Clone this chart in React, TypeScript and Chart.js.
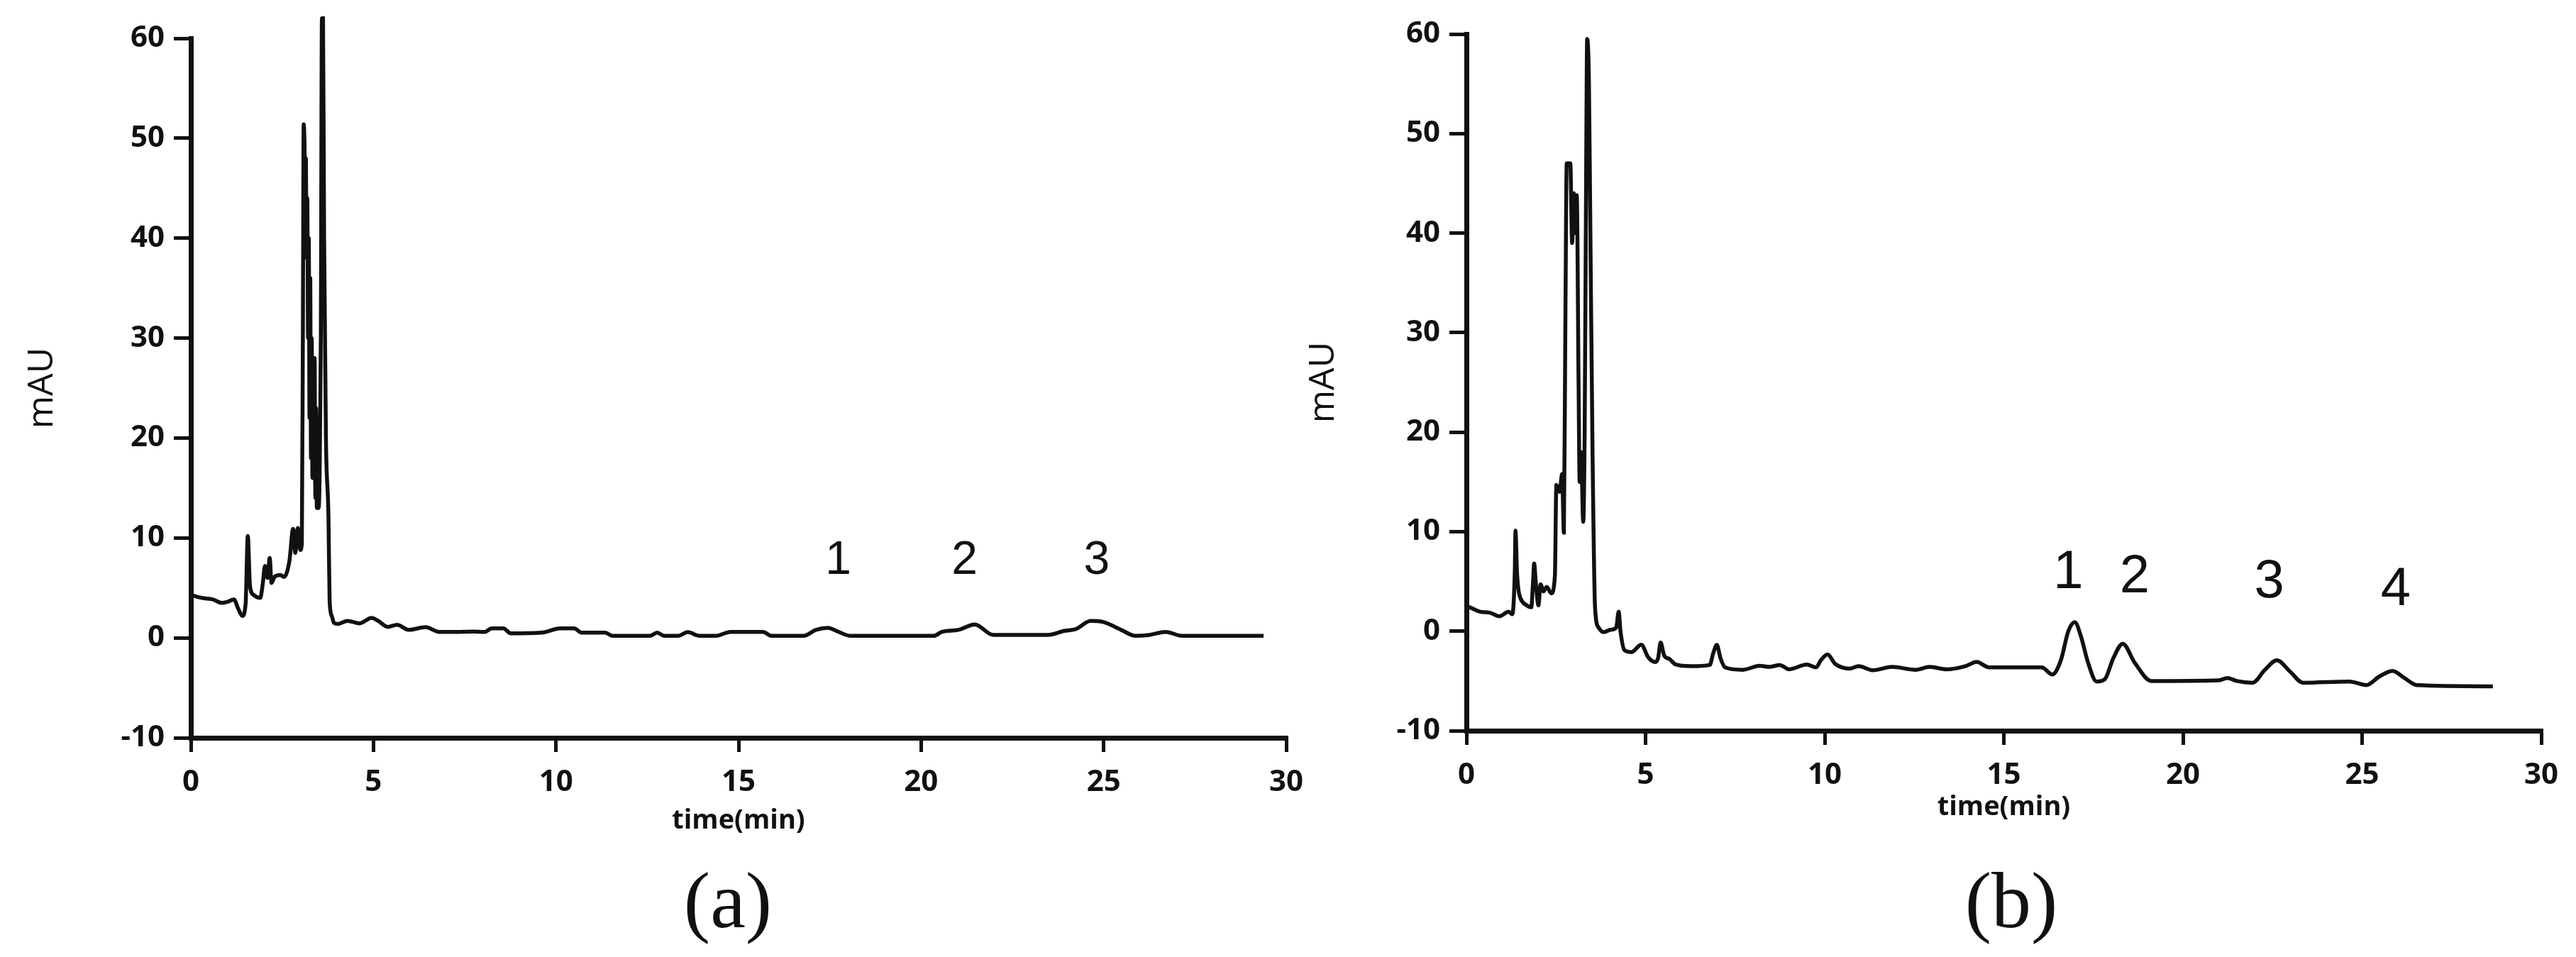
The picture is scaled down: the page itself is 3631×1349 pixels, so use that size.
import React, { useEffect, useRef } from 'react';
import { Chart, registerables } from 'chart.js';

Chart.register(...registerables);

// ---------- data: chromatogram (a) ----------
const timeA = [
  0.0, 0.3, 0.6, 0.85, 1.0, 1.18, 1.3, 1.41, 1.5, 1.56, 1.62, 1.72, 1.9, 1.97, 2.03, 2.1, 2.16, 2.21, 2.29, 2.45,
  2.55, 2.7, 2.8, 2.86, 2.93, 3.0, 3.04, 3.07, 3.09, 3.11, 3.13, 3.15, 3.17, 3.19, 3.21, 3.23, 3.25, 3.27, 3.29, 3.31,
  3.33, 3.35, 3.37, 3.39, 3.41, 3.43, 3.45, 3.47, 3.5, 3.53, 3.56, 3.59, 3.62, 3.65, 3.7, 3.77, 3.8, 3.86, 3.92, 4.03,
  4.29, 4.62, 4.95, 5.13, 5.39, 5.65, 5.97, 6.43, 6.8, 7.27, 7.72, 8.05, 8.24, 8.56, 8.76, 9.6, 10.12, 10.5, 10.7, 11.35,
  11.54, 12.58, 12.77, 12.96, 13.35, 13.61, 13.93, 14.38, 14.78, 15.67, 15.9, 16.78, 17.12, 17.45, 17.68, 18.07, 20.35, 20.57, 21.02, 21.47,
  21.97, 23.47, 23.92, 24.25, 24.64, 24.98, 25.48, 25.87, 26.26, 26.7, 27.15, 29.38,
];
const signalA = [
  4.3, 4.0, 3.85, 3.5, 3.6, 3.85, 2.9, 2.2, 3.4, 10.2, 5.2, 4.3, 4.0, 5.4, 7.2, 6.0, 8.0, 5.5, 6.1, 6.3,
  6.1, 7.7, 10.9, 8.5, 11.0, 8.8, 9.5, 32, 51.4, 50, 45, 48, 38, 44, 30, 40, 22, 36, 18, 30,
  16, 26, 20, 28, 14, 23, 13, 18, 13, 17, 30, 62, 62, 40, 20, 12, 3.8, 2.2, 1.5, 1.4,
  1.7, 1.45, 2.0, 1.7, 1.1, 1.3, 0.8, 1.07, 0.6, 0.6, 0.64, 0.6, 0.95, 0.95, 0.45, 0.52, 0.95, 0.95, 0.52, 0.52,
  0.21, 0.21, 0.52, 0.21, 0.21, 0.57, 0.21, 0.21, 0.6, 0.6, 0.2, 0.2, 0.8, 1.0, 0.7, 0.2, 0.2, 0.6, 0.8, 1.35,
  0.3, 0.3, 0.7, 0.9, 1.7, 1.6, 0.8, 0.2, 0.3, 0.6, 0.2, 0.2,
];

// ---------- data: chromatogram (b) ----------
const timeB = [
  0.0, 0.09, 0.39, 0.65, 0.92, 1.18, 1.28, 1.35, 1.37, 1.41, 1.45, 1.51, 1.68, 1.81, 1.86, 1.89, 1.94, 2.01, 2.07, 2.15,
  2.24, 2.37, 2.47, 2.51, 2.6, 2.67, 2.72, 2.76, 2.8, 2.9, 2.95, 3.0, 3.04, 3.08, 3.13, 3.16, 3.2, 3.26, 3.3, 3.34,
  3.37, 3.42, 3.46, 3.52, 3.59, 3.69, 3.82, 4.02, 4.18, 4.25, 4.3, 4.41, 4.61, 4.88, 5.07, 5.27, 5.35, 5.42, 5.52, 5.67,
  5.84, 6.27, 6.79, 6.89, 6.99, 7.09, 7.22, 7.72, 8.18, 8.45, 8.75, 9.01, 9.5, 9.76, 9.89, 10.08, 10.29, 10.69, 10.95, 11.35,
  11.88, 12.54, 12.93, 13.4, 13.94, 14.24, 14.59, 16.06, 16.35, 16.59, 16.8, 16.98, 17.15, 17.35, 17.59, 17.82, 18.06, 18.32, 18.65, 19.12,
  21.0, 21.24, 21.5, 21.94, 22.29, 22.62, 23.0, 23.35, 24.65, 25.12, 25.47, 25.85, 26.18, 26.53, 28.65,
];
const signalB = [
  2.5, 2.4, 1.95, 1.86, 1.5, 1.95, 1.7, 6, 10.1, 6, 4.2, 3.3, 2.6, 2.4, 5, 6.8, 4.7, 2.6, 4.7, 4.0,
  4.45, 3.8, 5.6, 14.7, 14.0, 15.8, 9.9, 30, 47, 47, 39, 44, 40, 43.8, 25, 15, 18, 11, 20, 45,
  59.5, 55, 40, 18, 2.4, 0.36, -0.1, 0.14, 0.36, 1.95, 0.0, -1.9, -2.1, -1.35, -2.6, -3.1, -2.7, -1.15, -2.45, -2.8,
  -3.35, -3.52, -3.4, -2.2, -1.38, -2.69, -3.64, -3.88, -3.47, -3.59, -3.4, -3.83, -3.35, -3.64, -2.93, -2.33, -3.28, -3.76, -3.52, -3.93,
  -3.59, -3.88, -3.59, -3.83, -3.5, -3.09, -3.64, -3.64, -4.35, -2.94, 0.0, 0.9, -0.5, -3.15, -5.06, -4.82, -2.68, -1.26, -3.15, -5.01,
  -4.94, -4.7, -5.0, -5.18, -3.87, -2.92, -4.1, -5.18, -5.06, -5.42, -4.58, -3.99, -4.7, -5.42, -5.54,
];

// ---------- ticks / annotations ----------
const xTickValues = [0, 5, 10, 15, 20, 25, 30];
const yTickValues = [-10, 0, 10, 20, 30, 40, 50, 60];
const peakLabelsA = ['1', '2', '3'];
const peakTimesA = [17.73, 21.19, 24.81];
const peakLevelsA = [7.7, 7.7, 7.7];
const peakLabelsB = ['1', '2', '3', '4'];
const peakTimesB = [16.8, 18.65, 22.41, 25.94];
const peakLevelsB = [5.8, 5.4, 4.9, 4.1];

const INK = '#111111';
const FONT = "'Open Sans', 'DejaVu Sans', sans-serif";

const peakLabelPlugin = {
  id: 'peakLabels',
  afterDatasetsDraw(chart: any, _args: any, opts: any) {
    const { ctx, scales } = chart;
    ctx.save();
    ctx.font = `${opts.size}px 'Liberation Sans', Arial, sans-serif`;
    ctx.fillStyle = INK;
    ctx.textAlign = 'center';
    ctx.textBaseline = 'middle';
    (opts.labels as string[]).forEach((l, i) => {
      ctx.fillText(l, scales.x.getPixelForValue(opts.times[i]), scales.y.getPixelForValue(opts.levels[i]));
    });
    ctx.restore();
  },
};

type Props = {
  left: number;
  width: number;
  height: number;
  times: number[];
  values: number[];
  padTop: number;
  padRight: number;
  yAxisWidth: number;
  xAxisHeight: number;
  yTitlePad: number;
  xTitlePad: number;
  labels: string[];
  labelTimes: number[];
  labelLevels: number[];
  labelSize: number;
};

function Chromatogram(p: Props) {
  const ref = useRef<HTMLCanvasElement | null>(null);
  useEffect(() => {
    if (!ref.current) return;
    const data = p.times.map((t, i) => ({ x: t, y: p.values[i] }));
    const chart = new Chart(ref.current, {
      type: 'line',
      data: {
        datasets: [
          {
            data,
            borderColor: INK,
            borderWidth: 5.5,
            pointRadius: 0,
            tension: 0.3,
            cubicInterpolationMode: 'monotone',
            clip: false as any,
            fill: false,
          },
        ],
      },
      plugins: [peakLabelPlugin as any],
      options: {
        animation: false,
        responsive: false,
        devicePixelRatio: 1,
        layout: { padding: { top: p.padTop, right: p.padRight, left: 0, bottom: 0 } },
        plugins: {
          legend: { display: false },
          tooltip: { enabled: false },
          peakLabels: { labels: p.labels, times: p.labelTimes, levels: p.labelLevels, size: p.labelSize },
        } as any,
        scales: {
          x: {
            type: 'linear',
            min: 0,
            max: 30,
            afterBuildTicks: (s: any) => {
              s.ticks = xTickValues.map((v) => ({ value: v }));
            },
            afterFit: (s: any) => {
              s.height = p.xAxisHeight;
            },
            ticks: {
              color: INK,
              font: { family: FONT, size: 42, weight: 'bold' },
              padding: 18,
              maxRotation: 0,
              autoSkip: false,
            },
            grid: { drawOnChartArea: false, drawTicks: true, tickLength: 20, color: INK, lineWidth: 5 },
            border: { display: true, color: INK, width: 7 },
            title: {
              display: true,
              text: 'time(min)',
              color: INK,
              font: { family: FONT, size: 38, weight: 'bold' },
              padding: { top: 0, bottom: p.xTitlePad },
            },
          },
          y: {
            type: 'linear',
            min: -10,
            max: 60,
            afterBuildTicks: (s: any) => {
              s.ticks = yTickValues.map((v) => ({ value: v }));
            },
            afterFit: (s: any) => {
              s.width = p.yAxisWidth;
            },
            ticks: {
              color: INK,
              font: { family: FONT, size: 42, weight: 'bold' },
              padding: 13,
              autoSkip: false,
            },
            grid: { drawOnChartArea: false, drawTicks: true, tickLength: 24, color: INK, lineWidth: 5 },
            border: { display: true, color: INK, width: 7 },
            title: {
              display: true,
              text: 'mAU',
              color: INK,
              font: { family: FONT, size: 50, weight: 'normal' },
              padding: { top: p.yTitlePad, bottom: 0 },
            },
          },
        },
      } as any,
    });
    return () => chart.destroy();
  }, []);
  return (
    <canvas
      ref={ref}
      width={p.width}
      height={p.height}
      style={{ position: 'absolute', left: p.left, top: 0, width: p.width, height: p.height }}
    />
  );
}

const captionStyle = (cx: number): React.CSSProperties => ({
  position: 'absolute',
  left: cx,
  top: 1269,
  transform: 'translate(-50%, -50%)',
  fontFamily: "'Liberation Serif', 'DejaVu Serif', serif",
  fontSize: 112,
  lineHeight: 1,
  color: INK,
  whiteSpace: 'nowrap',
});

export default function App() {
  return (
    <div
      style={{
        position: 'absolute',
        left: 0,
        top: 0,
        width: 3631,
        height: 1349,
        background: '#ffffff',
        overflow: 'hidden',
      }}
    >
      <Chromatogram
        left={0}
        width={1900}
        height={1200}
        times={timeA}
        values={signalA}
        padTop={54}
        padRight={87}
        yAxisWidth={269}
        xAxisHeight={160}
        yTitlePad={30}
        xTitlePad={20}
        labels={peakLabelsA}
        labelTimes={peakTimesA}
        labelLevels={peakLevelsA}
        labelSize={66}
      />
      <Chromatogram
        left={1800}
        width={1831}
        height={1200}
        times={timeB}
        values={signalB}
        padTop={48}
        padRight={49}
        yAxisWidth={267}
        xAxisHeight={170}
        yTitlePad={36}
        xTitlePad={39}
        labels={peakLabelsB}
        labelTimes={peakTimesB}
        labelLevels={peakLevelsB}
        labelSize={76}
      />
      <div style={captionStyle(1026)}>(a)</div>
      <div style={captionStyle(2835)}>(b)</div>
    </div>
  );
}
